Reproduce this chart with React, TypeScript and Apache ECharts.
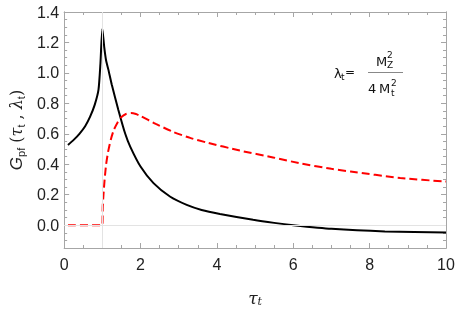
import React, { useEffect, useRef } from "react";
import * as echarts from "echarts";

// tau values and G values
const blackTau = [0.1, 0.25, 0.4, 0.55, 0.68, 0.8, 0.9, 0.95, 1.0, 1.05, 1.1, 1.16, 1.25, 1.42, 1.6, 1.73, 2.0, 2.34, 2.77, 3.21, 3.6, 4.08, 4.95, 5.5, 6.0, 7.0, 8.4, 10];
const blackG = [0.527, 0.56, 0.6, 0.65, 0.713, 0.79, 0.89, 1.06, 1.29, 1.17, 1.08, 1.02, 0.92, 0.757, 0.6, 0.516, 0.385, 0.276, 0.188, 0.133, 0.1, 0.074, 0.035, 0.015, 0.0, -0.024, -0.041, -0.048];

const redTau = [0.1, 1.0, 1.01, 1.03, 1.06, 1.1, 1.15, 1.22, 1.3, 1.4, 1.5, 1.62, 1.75, 1.88, 2.0, 2.4, 2.86, 3.3, 3.73, 4.6, 5.47, 6.2, 7.0, 7.5, 8.8, 10];
const redG = [0, 0, 0.12, 0.2, 0.3, 0.4, 0.48, 0.56, 0.625, 0.675, 0.71, 0.73, 0.736, 0.73, 0.717, 0.665, 0.612, 0.573, 0.543, 0.49, 0.445, 0.405, 0.37, 0.352, 0.31, 0.286];

const xTicks = [0, 2, 4, 6, 8, 10];
const yTicks = [0, 0.2, 0.4, 0.6, 0.8, 1.0, 1.2, 1.4];
const yMinorTicks = [-0.15, -0.1, -0.05, 0.05, 0.1, 0.15, 0.25, 0.3, 0.35, 0.45, 0.5, 0.55, 0.65, 0.7, 0.75, 0.85, 0.9, 0.95, 1.05, 1.1, 1.15, 1.25, 1.3, 1.35];
const gridX = [1];
const gridY = [0];

const FRAME = "#a6a6a6";
const TICKFONT = "Liberation Sans";

export default function App() {
  const ref = useRef<HTMLDivElement>(null);
  useEffect(() => {
    if (!ref.current) return;
    const chart = echarts.init(ref.current, null, { renderer: "svg" });
    const black = blackTau.map((t, i) => [t, blackG[i]]);
    const red = redTau.map((t, i) => [t, redG[i]]);
    const yAxisBase = {
      type: "value",
      min: -0.15,
      max: 1.4,
      splitLine: { show: false },
      axisLine: { show: true, onZero: false, lineStyle: { color: FRAME, width: 1 } },
    };
    const xAxisBase = {
      type: "value",
      min: 0,
      max: 10,
      interval: 2,
      splitLine: { show: false },
      axisLine: { show: true, onZero: false, lineStyle: { color: FRAME, width: 1 } },
      axisTick: { show: true, inside: true, length: 5, lineStyle: { color: FRAME } },
      minorTick: { show: true, splitNumber: 4, length: 3, lineStyle: { color: FRAME } },
    };
    chart.setOption({
      animation: false,
      grid: { left: 64, right: 12, top: 12, bottom: 64 },
      xAxis: [
        {
          ...xAxisBase,
          position: "bottom",
          axisLabel: {
            show: true,
            fontSize: 16,
            color: "#222",
            fontFamily: TICKFONT,
            margin: 8,
            customValues: xTicks,
          },
          name: "{i|τ}{s|t}",
          nameLocation: "middle",
          nameGap: 40,
          nameTextStyle: {
            rich: {
              i: { fontSize: 17, fontStyle: "italic", fontFamily: "DejaVu Serif", color: "#222", verticalAlign: "middle" },
              s: { fontSize: 11, fontStyle: "italic", fontFamily: "DejaVu Serif", color: "#222", padding: [8, 0, 0, 0], verticalAlign: "middle" },
            },
          },
        },
        {
          ...xAxisBase,
          position: "top",
          axisLabel: { show: false },
        },
      ],
      yAxis: [
        {
          ...yAxisBase,
          position: "left",
          axisTick: { show: true, inside: true, length: 5, lineStyle: { color: FRAME }, customValues: yTicks },
          axisLabel: {
            show: true,
            fontSize: 16,
            color: "#222",
            fontFamily: TICKFONT,
            margin: 5,
            customValues: yTicks,
            formatter: (v: number) => v.toFixed(1),
          },
          name: "{g|G}{s|pf}{n| (}{i|τ}{s|t}{n| , }{i|λ}{s|t}{n|)}",
          nameLocation: "middle",
          nameRotate: 90,
          nameGap: 38,
          nameTextStyle: {
            rich: {
              g: { fontSize: 17, fontStyle: "italic", fontFamily: TICKFONT, color: "#222", verticalAlign: "middle" },
              s: { fontSize: 11, fontFamily: TICKFONT, color: "#222", padding: [8, 0, 0, 0], verticalAlign: "middle" },
              n: { fontSize: 16, fontFamily: "DejaVu Serif", color: "#222", verticalAlign: "middle" },
              i: { fontSize: 16, fontStyle: "italic", fontFamily: "DejaVu Serif", color: "#222", verticalAlign: "middle" },
            },
          },
        },
        {
          ...yAxisBase,
          position: "left",
          axisTick: { show: true, inside: true, length: 3, lineStyle: { color: FRAME }, customValues: yMinorTicks },
          axisLabel: { show: false },
        },
        {
          ...yAxisBase,
          position: "right",
          axisTick: { show: true, inside: true, length: 5, lineStyle: { color: FRAME }, customValues: yTicks },
          axisLabel: { show: false },
        },
        {
          ...yAxisBase,
          position: "right",
          axisTick: { show: true, inside: true, length: 3, lineStyle: { color: FRAME }, customValues: yMinorTicks },
          axisLabel: { show: false },
        },
      ],
      graphic: [
        { type: "text", x: 334, y: 73, style: { text: "λ", font: "13px DejaVu Sans", fill: "#111", verticalAlign: "middle" } },
        { type: "text", x: 341, y: 77, style: { text: "t", font: "9px DejaVu Sans", fill: "#111", verticalAlign: "middle" } },
        { type: "text", x: 345, y: 72, style: { text: "=", font: "12px DejaVu Sans", fill: "#111", verticalAlign: "middle" } },
        { type: "line", shape: { x1: 368, y1: 72.5, x2: 403, y2: 72.5 }, style: { stroke: "#888", lineWidth: 1.2 } },
        { type: "text", x: 376, y: 61, style: { text: "M", font: "13px DejaVu Sans", fill: "#111", verticalAlign: "middle" } },
        { type: "text", x: 387, y: 65, style: { text: "Z", font: "9px DejaVu Sans", fill: "#111", verticalAlign: "middle" } },
        { type: "text", x: 387, y: 55, style: { text: "2", font: "9px DejaVu Sans", fill: "#111", verticalAlign: "middle" } },
        { type: "text", x: 368, y: 88, style: { text: "4", font: "13px DejaVu Sans", fill: "#111", verticalAlign: "middle" } },
        { type: "text", x: 379, y: 88, style: { text: "M", font: "13px DejaVu Sans", fill: "#111", verticalAlign: "middle" } },
        { type: "text", x: 391, y: 93, style: { text: "t", font: "9px DejaVu Sans", fill: "#111", verticalAlign: "middle" } },
        { type: "text", x: 391, y: 83, style: { text: "2", font: "9px DejaVu Sans", fill: "#111", verticalAlign: "middle" } },
      ],
      series: [
        {
          type: "line",
          data: [],
          z: 1,
          silent: true,
          markLine: {
            silent: true,
            symbol: "none",
            label: { show: false },
            lineStyle: { color: "#e3e3e3", width: 1, type: "solid" },
            data: [...gridX.map((v) => ({ xAxis: v })), ...gridY.map((v) => ({ yAxis: v }))],
          },
        },
        {
          type: "line",
          data: black,
          z: 3,
          showSymbol: false,
          smooth: 0.2,
          lineStyle: { color: "#000", width: 2 },
        },
        {
          type: "line",
          data: red,
          z: 4,
          showSymbol: false,
          smooth: 0.2,
          lineStyle: { color: "#ff0000", width: 2, type: [8, 4] },
        },
      ],
    });
    return () => chart.dispose();
  }, []);
  return <div ref={ref} style={{ position: "fixed", left: 0, top: 0, width: 458, height: 312 }} />;
}
